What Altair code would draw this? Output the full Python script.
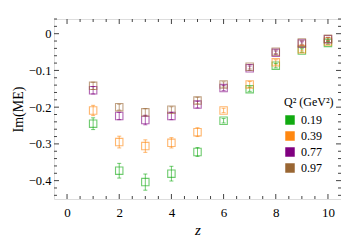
import altair as alt
import pandas as pd

z = [1, 2, 3, 4, 5, 6, 7, 8, 9, 10]
q2_labels = ["0.19", "0.39", "0.77", "0.97"]
colors = ["#11aa11", "#ff8811", "#800080", "#996633"]

im_019 = [-0.245, -0.373, -0.404, -0.381, -0.322, -0.237, -0.151, -0.087, -0.046, -0.025]
im_039 = [-0.209, -0.295, -0.306, -0.297, -0.268, -0.209, -0.138, -0.078, -0.042, -0.021]
im_077 = [-0.154, -0.224, -0.235, -0.224, -0.193, -0.148, -0.094, -0.052, -0.027, -0.015]
im_097 = [-0.142, -0.200, -0.214, -0.207, -0.182, -0.138, -0.090, -0.049, -0.024, -0.014]

err_019 = [0.016, 0.020, 0.022, 0.020, 0.012, 0.006, 0.006, 0.006, 0.005, 0.004]
err_039 = [0.014, 0.016, 0.017, 0.014, 0.012, 0.006, 0.008, 0.007, 0.005, 0.004]
err_077 = [0.010, 0.010, 0.013, 0.010, 0.009, 0.007, 0.006, 0.005, 0.005, 0.005]
err_097 = [0.010, 0.008, 0.010, 0.008, 0.009, 0.007, 0.006, 0.005, 0.005, 0.004]

x_major = [0, 2, 4, 6, 8, 10]
x_minor = [v * 0.5 for v in range(0, 21) if v % 4 != 0]
y_major = [0.0, -0.1, -0.2, -0.3, -0.4]
y_minor = [round(-0.44 + 0.02 * i, 2) for i in range(25)]
y_minor = [v for v in y_minor if round(v * 10, 6) != round(v * 10)]

W, H = 287, 180
FONT = "Liberation Serif"

rows = []
for lab, vals, errs in zip(q2_labels, [im_019, im_039, im_077, im_097],
                           [err_019, err_039, err_077, err_097]):
    for zi, v, e in zip(z, vals, errs):
        rows.append({"z": zi, "im": v, "lo": v - e, "hi": v + e, "Q2": lab})
df = pd.DataFrame(rows)

xs = alt.Scale(domain=[-0.5, 10.5], nice=False, zero=False)
ys = alt.Scale(domain=[-0.45, 0.04], nice=False, zero=False)
cs = alt.Scale(domain=q2_labels, range=colors)

x_axis = alt.Axis(values=x_major, title="z", titleFontStyle="italic",
                  titleFontSize=15, titleFontWeight="normal",
                  ticks=False, labelPadding=7, titlePadding=3,
                  format="d", grid=False, domain=False, labelFontSize=13,
                  labelFont=FONT, titleFont=FONT)
y_axis = alt.Axis(values=y_major, title="Im(ME)", format=".1~f",
                  titleFontSize=14, titleFontWeight="normal",
                  ticks=False, labelPadding=3, titlePadding=3,
                  grid=False, domain=False, labelFontSize=12.5,
                  labelFont=FONT, titleFont=FONT)
legend = alt.Legend(
    title="Q² (GeV²)", orient="none", legendX=230, legendY=78,
    symbolType="square", symbolSize=90, symbolOpacity=1, symbolStrokeWidth=0,
    titleFontSize=12, titleFontWeight="normal", labelFontSize=12,
    labelFont=FONT, titleFont=FONT,
    rowPadding=4, titlePadding=5, labelOffset=5)

def X(f):
    return alt.X(f, scale=xs, axis=x_axis, title="z")

def Y(f):
    return alt.Y(f, scale=ys, axis=y_axis, title="Im(ME)")

C = alt.Color("Q2:N", scale=cs, legend=legend)

base = alt.Chart(df)

leg = base.mark_square(filled=True, size=90, opacity=0).encode(x=X("z:Q"), y=Y("im:Q"), color=C)
bars = base.mark_rule(opacity=0.6, strokeWidth=1).encode(x=X("z:Q"), y=Y("lo:Q"), y2="hi:Q", color=C)
cap_lo = base.mark_tick(opacity=0.6, thickness=1, size=4, orient="horizontal").encode(
    x=X("z:Q"), y=Y("lo:Q"), color=C)
cap_hi = base.mark_tick(opacity=0.6, thickness=1, size=4, orient="horizontal").encode(
    x=X("z:Q"), y=Y("hi:Q"), color=C)
pts = base.mark_point(shape="square", filled=False, size=55, strokeWidth=1.1, opacity=0.6).encode(
    x=X("z:Q"), y=Y("im:Q"), color=C)

TC = "#444444"
xmaj = pd.DataFrame({"v": x_major})
xmin = pd.DataFrame({"v": x_minor})
ymaj = pd.DataFrame({"v": y_major})
ymin = pd.DataFrame({"v": y_minor})

def xt(d, ln, top):
    if top:
        yy, yy2 = alt.value(0), alt.value(ln)
    else:
        yy, yy2 = alt.value(H), alt.value(H - ln)
    return alt.Chart(d).mark_rule(color=TC, strokeWidth=1).encode(x=X("v:Q"), y=yy, y2=yy2)

def yt(d, ln, right):
    if right:
        xx, xx2 = alt.value(W), alt.value(W - ln)
    else:
        xx, xx2 = alt.value(0), alt.value(ln)
    return alt.Chart(d).mark_rule(color=TC, strokeWidth=1).encode(y=Y("v:Q"), x=xx, x2=xx2)

ticks = [xt(xmaj, 5, False), xt(xmaj, 5, True), xt(xmin, 3, False), xt(xmin, 3, True),
         yt(ymaj, 5, False), yt(ymaj, 5, True), yt(ymin, 3, False), yt(ymin, 3, True)]

chart = alt.layer(leg, bars, cap_lo, cap_hi, pts, *ticks).properties(
    width=W, height=H,
    autosize=alt.AutoSizeParams(type="none"),
    padding={"left": 46, "top": 11, "right": 0, "bottom": 38},
).configure_view(stroke="#333333", strokeWidth=1.2).configure_axis(
    labelFont=FONT, titleFont=FONT, labelColor="#111111",
    titleColor="#111111",
).configure_legend(labelFont=FONT, titleFont=FONT, labelColor="#111111",
                   titleColor="#111111").configure(background="white", font=FONT)

chart.save("out.html", embed_options={"renderer": "svg", "actions": False})
